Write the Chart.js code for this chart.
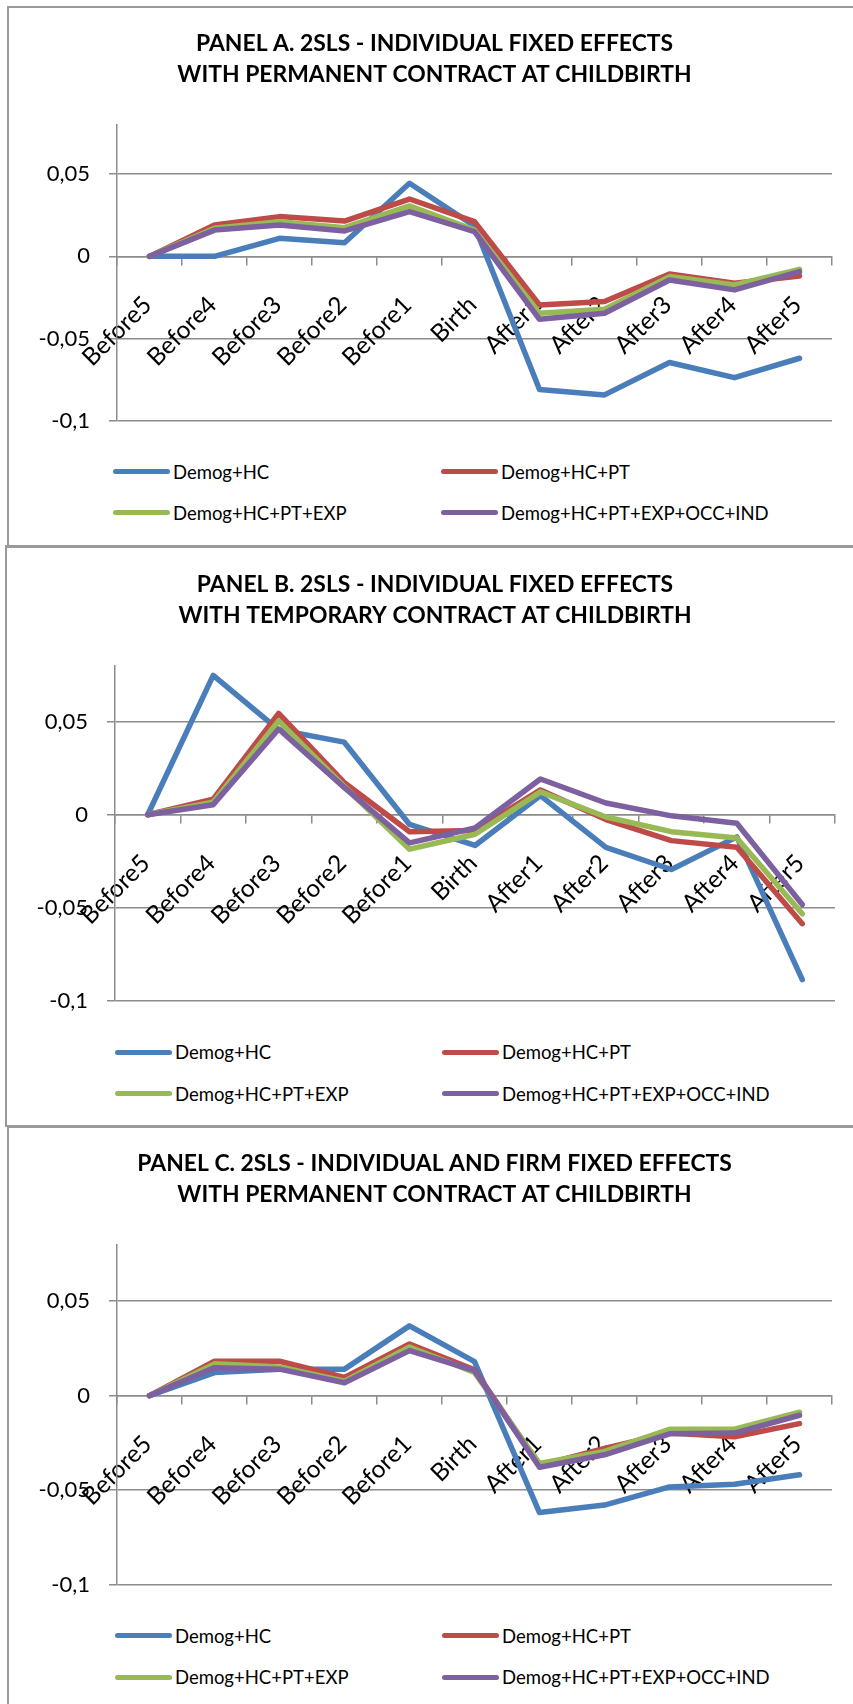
<!DOCTYPE html>
<html>
<head>
<meta charset="utf-8">
<script src="https://cdn.jsdelivr.net/npm/chart.js@4.4.1/dist/chart.umd.min.js"></script>
<style>
	body { margin: 0; width: 853px; height: 1704px; position: relative; overflow: hidden; background: #fff; font-family: Lato, sans-serif; }
	.frame { position: absolute; border: 2px solid #9a9a9a; box-sizing: border-box; }
	.plot { position: absolute; left: 0; }
	.legend-item { position: absolute; height: 24px; display: flex; align-items: center; font-size: 18.5px; color: #000; white-space: nowrap; }
	.legend-item .swatch { width: 57px; height: 5px; border-radius: 3px; margin-right: 3px; }
</style>
</head>
<body>
<div class="frame" style="left:7px;top:6px;width:870px;height:542px"></div>
<div class="frame" style="left:5px;top:545px;width:870px;height:582px"></div>
<div class="frame" style="left:7px;top:1126px;width:870px;height:600px"></div>

<canvas class="plot" id="chartA" width="853" height="440" style="top:0px"></canvas>
<canvas class="plot" id="chartB" width="853" height="480" style="top:540px"></canvas>
<canvas class="plot" id="chartC" width="853" height="480" style="top:1120px"></canvas>

<script>
// categories and series
const periods = ['Before5', 'Before4', 'Before3', 'Before2', 'Before1', 'Birth', 'After1', 'After2', 'After3', 'After4', 'After5'];
const seriesNames = ['Demog+HC', 'Demog+HC+PT', 'Demog+HC+PT+EXP', 'Demog+HC+PT+EXP+OCC+IND'];
const seriesColors = ['#4A7EBB', '#BE4B48', '#98B954', '#7D60A0'];

const titleA = ['PANEL A. 2SLS - INDIVIDUAL FIXED EFFECTS', 'WITH PERMANENT CONTRACT AT CHILDBIRTH'];
const titleB = ['PANEL B. 2SLS - INDIVIDUAL FIXED EFFECTS', 'WITH TEMPORARY CONTRACT AT CHILDBIRTH'];
const titleC = ['PANEL C. 2SLS - INDIVIDUAL AND FIRM FIXED EFFECTS', 'WITH PERMANENT CONTRACT AT CHILDBIRTH'];

const panelA_hc  = [0, 0, 0.011, 0.0083, 0.0445, 0.0185, -0.081, -0.0843, -0.0646, -0.0738, -0.062];
const panelA_pt  = [0, 0.0191, 0.0242, 0.0215, 0.0349, 0.0211, -0.0296, -0.0275, -0.0107, -0.0164, -0.0119];
const panelA_exp = [0, 0.0171, 0.0211, 0.0175, 0.0307, 0.016, -0.0346, -0.0322, -0.0123, -0.0174, -0.0079];
const panelA_occ = [0, 0.016, 0.0191, 0.0155, 0.0272, 0.015, -0.0383, -0.0346, -0.0144, -0.0204, -0.0093];

const panelB_hc  = [0, 0.0748, 0.0456, 0.039, -0.0052, -0.0165, 0.0103, -0.0175, -0.0294, -0.0119, -0.0885];
const panelB_pt  = [0, 0.0083, 0.0544, 0.0173, -0.0091, -0.0085, 0.0133, -0.0026, -0.0139, -0.0175, -0.0585];
const panelB_exp = [0, 0.0067, 0.0504, 0.0153, -0.0185, -0.0105, 0.0123, -0.0012, -0.0091, -0.0125, -0.0532];
const panelB_occ = [0, 0.0054, 0.046, 0.0147, -0.0151, -0.0071, 0.0192, 0.0063, -0.0006, -0.0046, -0.0482];

const panelC_hc  = [0, 0.0122, 0.014, 0.014, 0.0369, 0.018, -0.0619, -0.0579, -0.0483, -0.0469, -0.0419];
const panelC_pt  = [0, 0.0182, 0.0182, 0.0096, 0.0273, 0.0136, -0.0369, -0.0279, -0.0198, -0.0218, -0.0148];
const panelC_exp = [0, 0.0168, 0.0152, 0.0076, 0.0257, 0.0122, -0.0359, -0.0295, -0.0178, -0.0178, -0.0088];
const panelC_occ = [0, 0.0148, 0.014, 0.0068, 0.0238, 0.0132, -0.0379, -0.0313, -0.0202, -0.0198, -0.0104];

const gridColor = '#8c8c8c';

function addLegend(rowsY, col1X, col2X)
{
	const cols = [col1X, col2X];
	seriesNames.forEach((name, i) => 
	{
		const item = document.createElement('div');
		item.className = 'legend-item';
		item.style.left = cols[i % 2] + 'px';
		item.style.top = (rowsY[Math.floor(i / 2)] - 12) + 'px';
		const sw = document.createElement('span');
		sw.className = 'swatch';
		sw.style.background = seriesColors[i];
		item.appendChild(sw);
		item.appendChild(document.createTextNode(name));
		document.body.appendChild(item);
	});
}

function buildPanel(opt)
{
	const datasets = seriesNames.map((name, i) => ({
		label: name,
		data: opt.values[i],
		borderColor: seriesColors[i],
		backgroundColor: seriesColors[i],
		borderWidth: 5.5,
		pointRadius: 0,
		tension: 0,
		borderJoinStyle: 'round',
		borderCapStyle: 'round',
		order: seriesNames.length - i
	}));

	new Chart(document.getElementById(opt.id), 
	{
		type: 'line',
		data: { labels: periods, datasets: datasets },
		options: 
		{
			responsive: false,
			animation: false,
			events: [],
			layout: { padding: { top: 0, left: opt.padLeft, right: opt.padRight, bottom: opt.padBottom } },
			plugins: 
			{
				legend: { display: false },
				tooltip: { enabled: false },
				title: 
				{
					display: true,
					text: opt.title,
					color: '#000',
					font: { family: 'Lato', size: 22.9, weight: 'bold', lineHeight: 1.354 },
					padding: { top: opt.titleTop, bottom: opt.titleBottom }
				}
			},
			scales: 
			{
				x: 
				{
					type: 'category',
					offset: true,
					position: { y: 0 },
					grid: { offset: true, drawOnChartArea: false, drawTicks: true, tickLength: 8, color: gridColor, lineWidth: 1.5 },
					border: { display: true, color: gridColor, width: 1.5 },
					ticks: { autoSkip: false, maxRotation: 45, minRotation: 45, padding: 26, labelOffset: -2, color: '#000', font: { family: 'Lato', size: 24.5 } }
				},
				y: 
				{
					min: -0.1,
					max: 0.08,
					afterFit: (scale) => 
					{
						// fixed axis width, and keep the tick labels from shrinking the plot
						scale.width = 80;
						scale.paddingTop = 0;
						scale.paddingBottom = 0;
					},
					grid: { color: gridColor, lineWidth: 1.5, tickLength: 8 },
					border: { display: true, color: gridColor, width: 1.5 },
					ticks: 
					{
						stepSize: 0.05,
						includeBounds: false,
						padding: 19,
						color: '#000',
						font: { family: 'Lato', size: 22 },
						callback: (v) => String(v).replace('.', ',')
					}
				}
			}
		}
	});
}

buildPanel({ id: 'chartA', title: titleA, values: [panelA_hc, panelA_pt, panelA_exp, panelA_occ],
	padLeft: 37, padRight: 21, padBottom: 19.3, titleTop: 28, titleBottom: 34.9 });
buildPanel({ id: 'chartB', title: titleB, values: [panelB_hc, panelB_pt, panelB_exp, panelB_occ],
	padLeft: 35, padRight: 18, padBottom: 19, titleTop: 28.9, titleBottom: 34.8 });
buildPanel({ id: 'chartC', title: titleC, values: [panelC_hc, panelC_pt, panelC_exp, panelC_occ],
	padLeft: 37, padRight: 21, padBottom: 15.4, titleTop: 28.5, titleBottom: 33.9 });

addLegend([471.7, 512.7], 113, 441);
addLegend([1052.4, 1093.8], 115, 442);
addLegend([1635.8, 1677.4], 115, 442);
</script>
</body>
</html>
